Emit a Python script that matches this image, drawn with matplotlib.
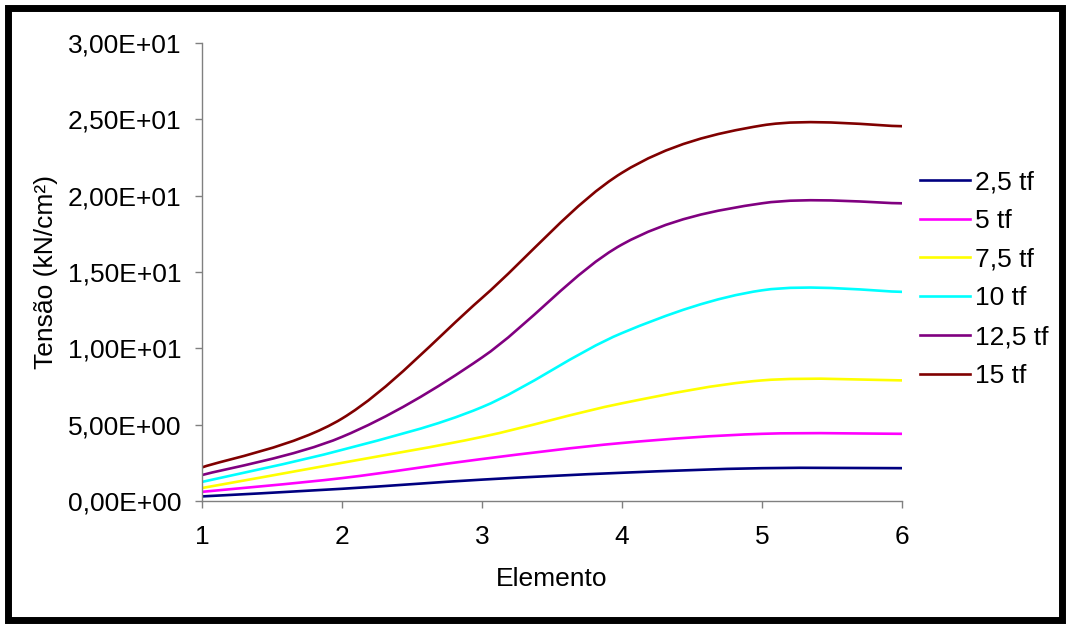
import numpy as np
import matplotlib
matplotlib.use('Agg')
import matplotlib.pyplot as plt
from matplotlib.path import Path
from matplotlib.patches import PathPatch, Rectangle
from matplotlib.lines import Line2D
from matplotlib.ticker import FuncFormatter, MultipleLocator

plt.rcParams['font.family'] = ['Liberation Sans', 'DejaVu Sans']

elemento = [1, 2, 3, 4, 5, 6]
labels = ['2,5 tf', '5 tf', '7,5 tf', '10 tf', '12,5 tf', '15 tf']
tensao_2_5 = [0.30, 0.80, 1.40, 1.85, 2.15, 2.15]
tensao_5 = [0.60, 1.50, 2.75, 3.80, 4.40, 4.40]
tensao_7_5 = [0.85, 2.50, 4.20, 6.40, 7.90, 7.90]
tensao_10 = [1.25, 3.35, 6.15, 11.00, 13.80, 13.70]
tensao_12_5 = [1.70, 4.20, 9.40, 16.80, 19.50, 19.50]
tensao_15 = [2.20, 5.40, 13.30, 21.50, 24.60, 24.55]
series = [tensao_2_5, tensao_5, tensao_7_5, tensao_10, tensao_12_5, tensao_15]
cores = ['#000080', '#FF00FF', '#FFFF00', '#00FFFF', '#800080', '#800000']

FS = 19


def smooth_path(x, y):
    # Excel-like smoothed line: cubic bezier through the points
    x = np.asarray(x, float)
    y = np.asarray(y, float)
    n = len(x)
    verts = [(x[0], y[0])]
    codes = [Path.MOVETO]
    for i in range(n - 1):
        i0 = max(i - 1, 0)
        i3 = min(i + 2, n - 1)
        c1 = (x[i] + (x[i + 1] - x[i0]) / 6, y[i] + (y[i + 1] - y[i0]) / 6)
        c2 = (x[i + 1] - (x[i3] - x[i]) / 6, y[i + 1] - (y[i3] - y[i]) / 6)
        verts += [c1, c2, (x[i + 1], y[i + 1])]
        codes += [Path.CURVE4] * 3
    return Path(verts, codes)


fig = plt.figure(figsize=(10.66, 6.24), dpi=100)
ax = fig.add_axes([202 / 1066, 123 / 624, 700 / 1066, 458 / 624])

handles = []
for vals, cor, lab in zip(series, cores, labels):
    ax.add_patch(PathPatch(smooth_path(elemento, vals), facecolor='none',
                           edgecolor=cor, lw=1.9, capstyle='round'))
    handles.append(Line2D([], [], color=cor, lw=1.9))

ax.set_xlim(1, 6)
ax.set_ylim(0, 30)
ax.xaxis.set_major_locator(MultipleLocator(1))
ax.yaxis.set_major_locator(MultipleLocator(5))
ax.yaxis.set_major_formatter(FuncFormatter(lambda v, p: ('%.2E' % v).replace('.', ',')))

for s in ['top', 'right']:
    ax.spines[s].set_visible(False)
for s in ['left', 'bottom']:
    ax.spines[s].set_color('#808080')
    ax.spines[s].set_linewidth(1.0)
ax.tick_params(axis='y', direction='out', length=5, width=1, color='#808080',
               labelsize=FS, pad=10)
ax.tick_params(axis='x', direction='out', length=5, width=1, color='#808080',
               labelsize=FS, pad=12)

ax.set_xlabel('Elemento', fontsize=FS)
ax.set_ylabel('Tensão (kN/cm²)', fontsize=FS)
ax.xaxis.set_label_coords(0.5, -0.145)
ax.yaxis.set_label_coords(-0.205, 0.5)

fig.legend(handles, labels, loc='center left', bbox_to_anchor=(920 / 1066, 1 - 279 / 624),
           frameon=False, fontsize=FS, handlelength=1.9, handletextpad=0.2,
           labelspacing=0.56, borderpad=0, borderaxespad=0)

# black frame around the chart area
fig.patches.append(Rectangle((7.5 / 1066, 4 / 624), 1054 / 1066, 612 / 624,
                             transform=fig.transFigure, fill=False,
                             edgecolor='black', lw=5))

fig.savefig('out.png', dpi=100)
